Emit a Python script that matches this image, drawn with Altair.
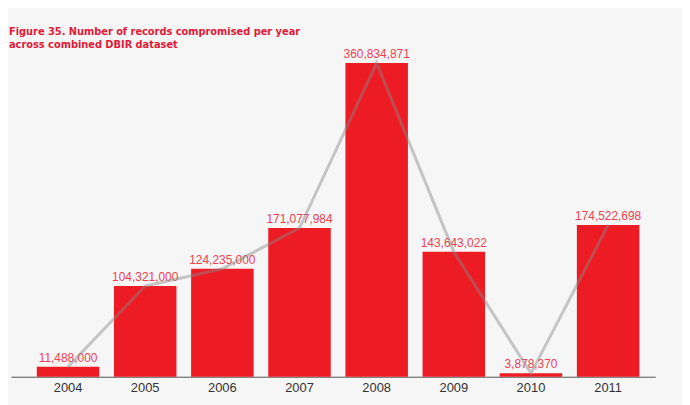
import altair as alt
import pandas as pd

years = ["2004", "2005", "2006", "2007", "2008", "2009", "2010", "2011"]
records = [11488000, 104321000, 124235000, 171077984, 360834871, 143643022, 3878370, 174522698]
labels = ["11,488,000", "104,321,000", "124,235,000", "171,077,984",
          "360,834,871", "143,643,022", "3,878,370", "174,522,698"]

df = pd.DataFrame({"year": years, "records": records, "label": labels})

x = alt.X("year:N", title=None, sort=None,
          scale=alt.Scale(paddingInner=0.19, paddingOuter=0.27, align=0.62),
          axis=alt.Axis(labelAngle=0, ticks=False, domainColor="#555555", domainWidth=1,
                        labelColor="#333333", labelFontSize=13, labelFont="Liberation Sans",
                        labelPadding=5, grid=False))
y = alt.Y("records:Q", title=None,
          scale=alt.Scale(domain=[0, 408800000], nice=False),
          axis=None)

base = alt.Chart(df).encode(x=x, y=y)

bars = base.mark_bar(color="#ed1c24")
text = base.mark_text(baseline="alphabetic", dy=-5, fontSize=12, font="Liberation Sans",
                      color="#f0404f").encode(text="label:N")
line = base.mark_line(color="#888888", opacity=0.45, strokeWidth=3)

chart = (bars + text + line).properties(
    width=649, height=358,
    background="#f6f6f6",
    padding={"left": 3, "top": 12, "right": 27, "bottom": 27},
    autosize=alt.AutoSizeParams(type="none"),
    title=alt.TitleParams(
        text=["Figure 35. Number of records compromised per year",
              "across combined DBIR dataset"],
        anchor="start", frame="group", orient="top",
        offset=-29, dx=-2, baseline="top",
        font="DejaVu Sans Condensed", fontSize=11, fontWeight="bold",
        color="#e31937", lineHeight=13),
).configure_view(stroke=None)

chart.save("out.html", embed_options={"renderer": "svg", "actions": False})
